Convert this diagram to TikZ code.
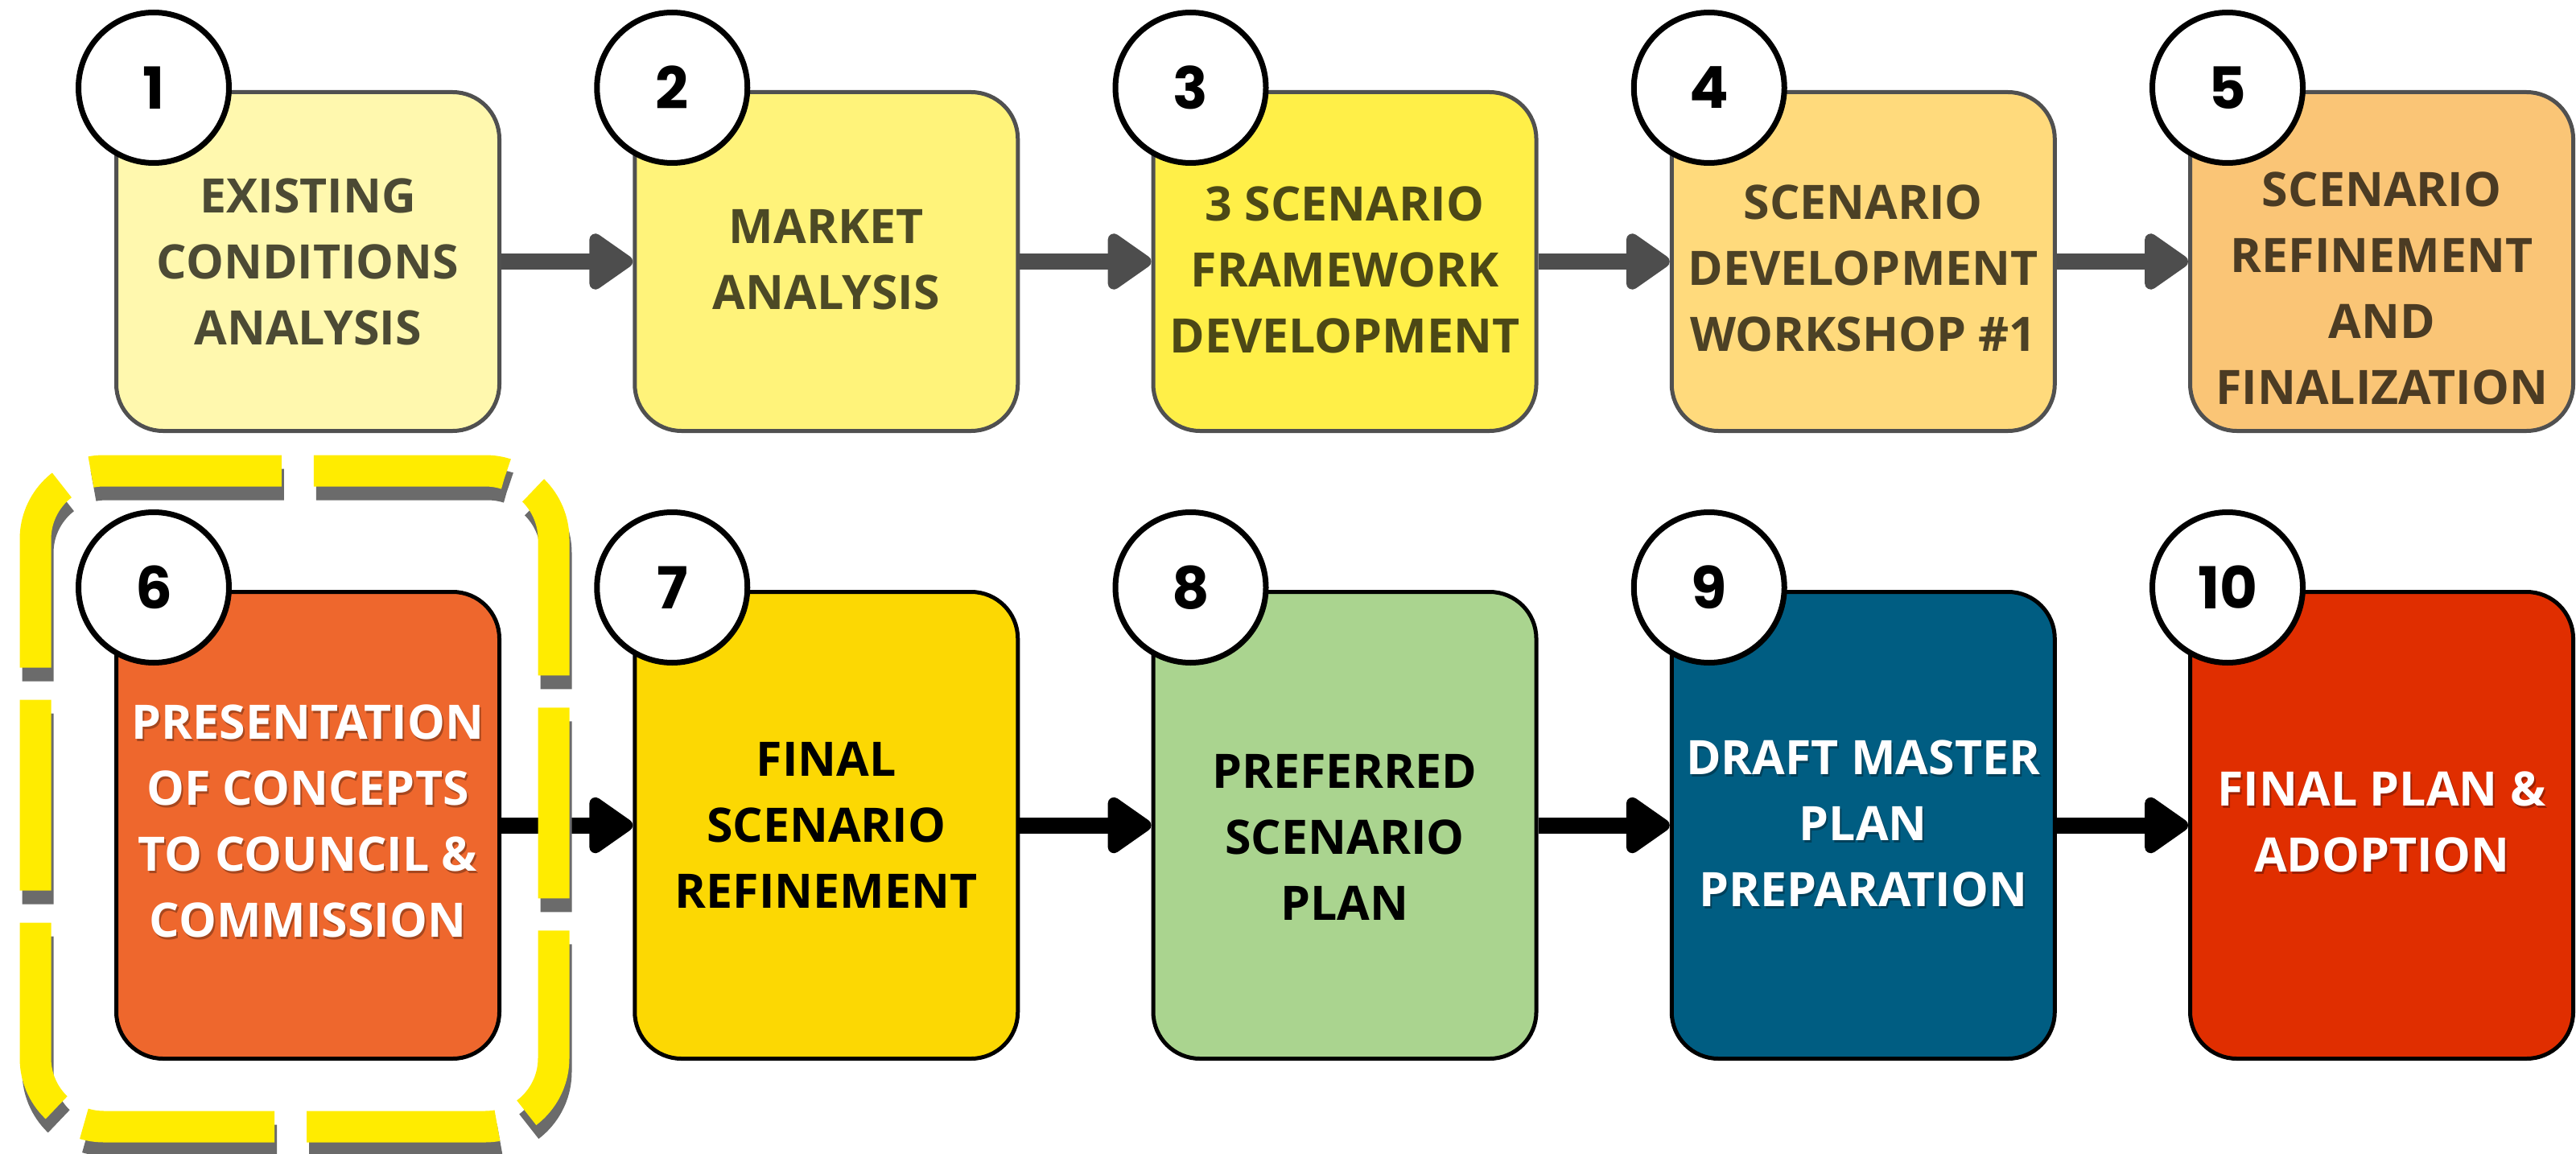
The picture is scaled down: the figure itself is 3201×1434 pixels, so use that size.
\documentclass[tikz,border=0pt]{standalone}
\usepackage{fontspec}
\setmainfont{Open Sans}
\newfontfamily\numberfont{Poppins}
\usepackage{tikz}
\usetikzlibrary{arrows.meta, positioning}
\usepackage{xcolor}
\definecolor{stepone}{RGB}{255,248,174}
\definecolor{steptwo}{RGB}{255,243,122}
\definecolor{stepthree}{RGB}{255,239,72}
\definecolor{stepfour}{RGB}{255,218,124}
\definecolor{stepfive}{RGB}{250,197,118}
\definecolor{stepsix}{RGB}{238,103,45}
\definecolor{stepseven}{RGB}{252,216,3}
\definecolor{stepeight}{RGB}{170,212,143}
\definecolor{stepnine}{RGB}{0,93,130}
\definecolor{stepten}{RGB}{224,46,0}
\definecolor{bordergray}{RGB}{80,80,80}
\definecolor{arrowgray}{RGB}{77,77,77}
\definecolor{markyellow}{RGB}{255,236,0}
\definecolor{markshadow}{RGB}{107,107,107}
\tikzset{stepbox/.style={rectangle, rounded corners=14.5pt, minimum width=119pt, line width=1.25pt, inner sep=0pt},toprowbox/.style={stepbox, draw=bordergray, minimum height=105.25pt},bottomrowbox/.style={stepbox, draw=black, minimum height=145pt}}
\tikzset{steptext/.style={align=center, inner sep=0pt, font=\bfseries\fontsize{14.75pt}{20.5pt}\selectfont},numbercircle/.style={circle, draw=black, fill=white, line width=1.75pt, minimum size=46.75pt, inner sep=0pt, font=\numberfont\bfseries\fontsize{18pt}{18pt}\selectfont}}

\begin{document}
\begin{tikzpicture}[
        x=0.25pt, y=-0.25pt,
        toprowarrow/.style={draw=arrowgray, line width=5pt, -{Triangle[length=15pt, width=19.75pt, round, line width=4pt]}},
        bottomrowarrow/.style={draw=black, line width=5pt, -{Triangle[length=15pt, width=19.75pt, round, line width=4pt]}},
        markline/.style={line width=9.75pt, rounded corners=21.25pt, dash pattern=on 59.25pt off 10pt},
    ]
        % Page
        \useasboundingbox (0, 0) rectangle (3201, 1434);
        % First row
        \foreach \i/\fillc/\dy/\txt in {
            1/stepone/0/{EXISTING\\CONDITIONS\\ANALYSIS},
            2/steptwo/-2/{MARKET\\ANALYSIS},
            3/stepthree/10/{3 SCENARIO\\FRAMEWORK\\DEVELOPMENT},
            4/stepfour/8/{SCENARIO\\DEVELOPMENT\\WORKSHOP \#1},
            5/stepfive/33/{SCENARIO\\REFINEMENT\\AND\\FINALIZATION}} {
            \node[toprowbox, fill=\fillc] (box\i) at ({382.5+644.25*(\i-1)}, 325) {};
            \node[steptext, text=\fillc!30!black] (label\i) at ([shift={(0, \dy)}]box\i.center) {\txt};
            \node[numbercircle] (number\i) at ([shift={(49, -3)}]box\i.north west) {\i};
        }
        % Second row
        \foreach \i/\fillc in {6/stepsix, 7/stepseven, 8/stepeight, 9/stepnine, 10/stepten} {
            \node[bottomrowbox, fill=\fillc] (box\i) at ({382.5+644.25*(\i-6)}, 1025.5) {};
            \node[numbercircle] (number\i) at ([shift={(49, -3)}]box\i.north west) {\i};
        }
        % Labels on dark boxes, with a soft shadow
        \foreach \i/\dy/\txt in {
            6/-5/{PRESENTATION\\OF CONCEPTS\\TO COUNCIL \&\\COMMISSION},
            9/-2/{DRAFT MASTER\\PLAN\\PREPARATION},
            10/-4/{FINAL PLAN \&\\ADOPTION}} {
            \node[steptext, text=black, text opacity=0.3] (glow\i) at ([shift={(2, \dy+3)}]box\i.center) {\txt};
            \node[steptext, text=white] (label\i) at ([shift={(0, \dy)}]box\i.center) {\txt};
        }
        % Labels on light boxes
        \foreach \i/\dy/\txt in {
            7/0/{FINAL\\SCENARIO\\REFINEMENT},
            8/15/{PREFERRED\\SCENARIO\\PLAN}} {
            \node[steptext, text=black] (label\i) at ([shift={(0, \dy)}]box\i.center) {\txt};
        }
        % Arrows
        \foreach \i/\j in {1/2, 2/3, 3/4, 4/5} {
            \draw[toprowarrow] (box\i.east) -- (box\j.west);
        }
        \foreach \i/\j in {6/7, 7/8, 8/9, 9/10} {
            \draw[bottomrowarrow] (box\i.east) -- (box\j.west);
        }
        % Highlight round step 6
        \draw[markline, markshadow, shift={(3, 17)}] (392, 585) -- (688, 585) -- (688, 1400) -- (44, 1400) -- (44, 585) -- (392, 585);
        \draw[markline, markyellow] (392, 585) -- (688, 585) -- (688, 1400) -- (44, 1400) -- (44, 585) -- (392, 585);
    \end{tikzpicture}
\end{document}
